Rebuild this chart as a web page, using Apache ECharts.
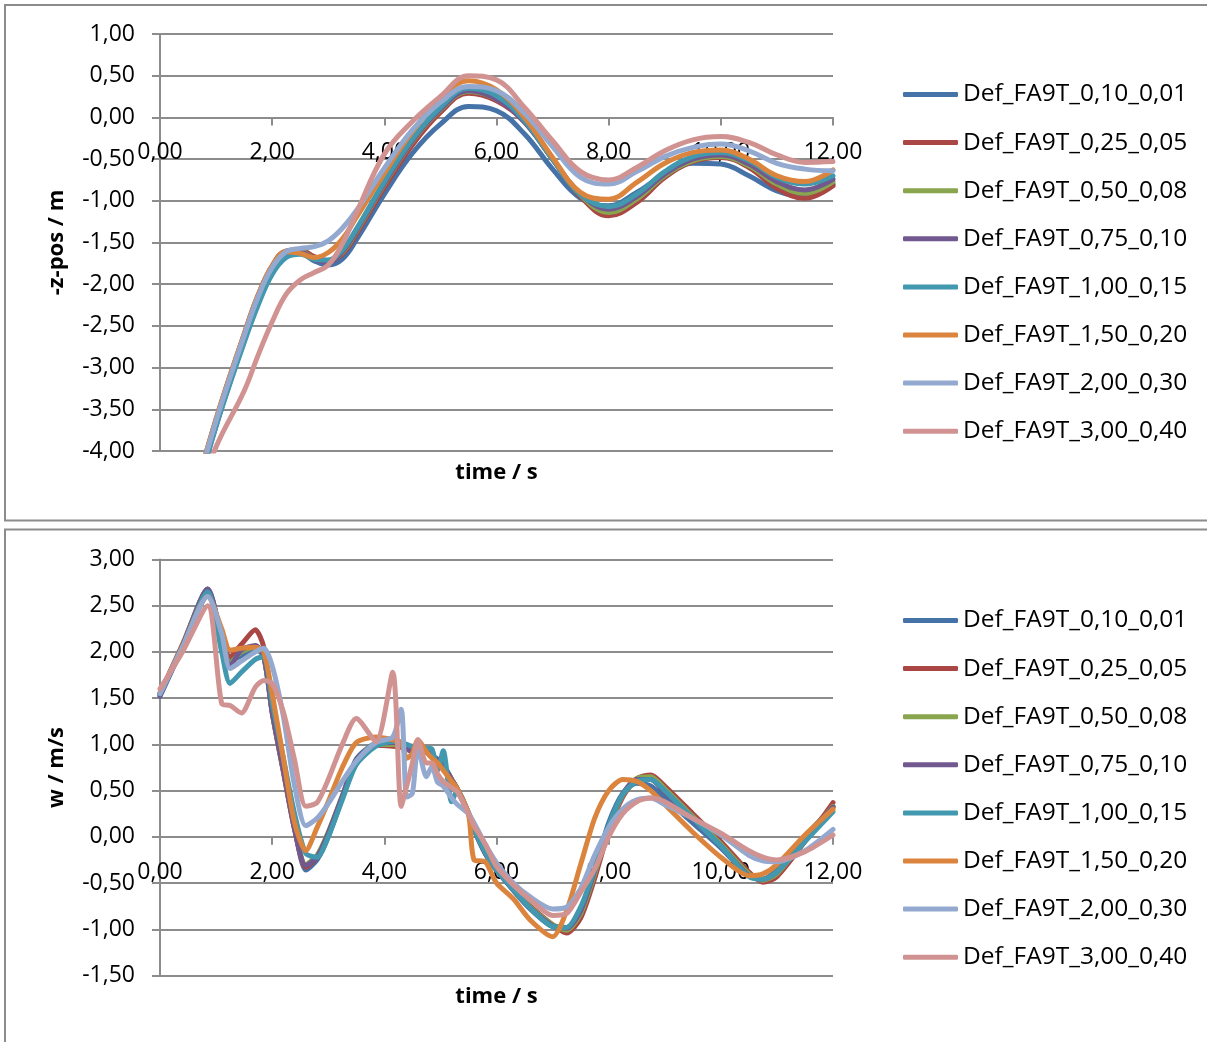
<!DOCTYPE html>
<html lang="de">
<head>
    <meta charset="UTF-8">
    <title>Def_FA9T</title>
    <script src="https://cdn.jsdelivr.net/npm/echarts@6/dist/echarts.min.js"></script>
    <style>
        *{
            padding: 0;
            margin: 0;
        }
        html, body{
            width: 100%;
            height: 100%;
            background: #fff;
            overflow: hidden;
        }
        .echarts{
            width: 1207px;
            height: 1042px;
        }
    </style>
</head>
<body>
<div class="echarts"></div>
<script>
    // series names (same in both charts)
    let names = ['Def_FA9T_0,10_0,01', 'Def_FA9T_0,25_0,05', 'Def_FA9T_0,50_0,08', 'Def_FA9T_0,75_0,10',
        'Def_FA9T_1,00_0,15', 'Def_FA9T_1,50_0,20', 'Def_FA9T_2,00_0,30', 'Def_FA9T_3,00_0,40'];
    let colors = ['#4572A7', '#AA4643', '#89A54E', '#71588F', '#4198AF', '#DB843D', '#93A9CF', '#D19392'];

    // top chart: -z-pos / m over time / s
    let timeZ = [0.5, 1.0, 1.5, 1.75, 2.0, 2.25, 2.5, 2.75, 3.0, 3.25, 3.5, 4.0, 4.5, 5.0, 5.5, 6.0, 6.5, 7.0, 7.5, 8.0, 8.5, 9.0, 9.5, 10.0, 10.5, 11.0, 11.5, 12.0];
    let z010 = [-4.9, -3.7, -2.68, -2.22, -1.87, -1.66, -1.63, -1.72, -1.77, -1.7, -1.47, -0.92, -0.43, -0.08, 0.13, 0.08, -0.2, -0.62, -0.97, -1.06, -0.9, -0.68, -0.55, -0.56, -0.7, -0.88, -0.95, -0.8];
    let z025 = [-4.8, -3.62, -2.6, -2.13, -1.78, -1.6, -1.59, -1.67, -1.72, -1.64, -1.4, -0.84, -0.33, 0.06, 0.29, 0.2, -0.05, -0.5, -0.95, -1.18, -1.02, -0.72, -0.53, -0.48, -0.6, -0.85, -0.97, -0.82];
    let z050 = [-4.82, -3.64, -2.62, -2.16, -1.8, -1.61, -1.61, -1.69, -1.73, -1.62, -1.37, -0.8, -0.29, 0.09, 0.31, 0.22, -0.05, -0.5, -0.93, -1.14, -0.98, -0.7, -0.52, -0.47, -0.58, -0.8, -0.91, -0.77];
    let z075 = [-4.83, -3.65, -2.63, -2.17, -1.81, -1.62, -1.62, -1.7, -1.74, -1.61, -1.36, -0.79, -0.28, 0.1, 0.32, 0.22, -0.06, -0.5, -0.92, -1.1, -0.95, -0.68, -0.5, -0.45, -0.56, -0.77, -0.87, -0.74];
    let z100 = [-4.88, -3.7, -2.7, -2.25, -1.88, -1.68, -1.64, -1.7, -1.71, -1.59, -1.34, -0.77, -0.26, 0.12, 0.35, 0.26, -0.04, -0.5, -0.93, -1.07, -0.92, -0.65, -0.47, -0.42, -0.52, -0.72, -0.8, -0.7];
    let z150 = [-4.8, -3.62, -2.6, -2.13, -1.78, -1.61, -1.63, -1.68, -1.62, -1.46, -1.2, -0.67, -0.17, 0.22, 0.44, 0.33, 0.0, -0.48, -0.9, -0.98, -0.78, -0.55, -0.42, -0.39, -0.5, -0.7, -0.77, -0.63];
    let z200 = [-4.82, -3.64, -2.62, -2.15, -1.8, -1.61, -1.57, -1.55, -1.48, -1.33, -1.12, -0.61, -0.15, 0.18, 0.37, 0.32, 0.05, -0.35, -0.72, -0.8, -0.65, -0.47, -0.36, -0.32, -0.4, -0.55, -0.62, -0.64];
    let z300 = [-4.85, -3.95, -3.28, -2.85, -2.45, -2.12, -1.95, -1.86, -1.77, -1.52, -1.15, -0.44, -0.05, 0.25, 0.5, 0.45, 0.12, -0.28, -0.65, -0.75, -0.6, -0.4, -0.27, -0.23, -0.3, -0.45, -0.54, -0.53];

    // bottom chart: w / m/s over time / s
    let timeW = [0, 0.4, 0.85, 1.1, 1.25, 1.45, 1.7, 1.85, 2.0, 2.2, 2.4, 2.6, 2.8, 3.0, 3.25, 3.5, 3.85, 4.15, 4.3, 4.4,
        4.5, 4.6, 4.75, 4.85, 4.95, 5.05, 5.2, 5.3, 5.5, 5.6, 5.8, 6.0, 6.3, 6.6, 7.0, 7.25, 7.5, 7.75, 8.0, 8.25,
        8.5, 8.75, 9.0, 9.5, 10.0, 10.5, 10.75, 11.0, 11.5, 12.0];
    let w010 = [1.52, 2.05, 2.68, 2.15, 1.9, 1.96, 2.03, 1.95, 1.35, 0.72, 0.1, -0.36, -0.25, 0.0, 0.42, 0.84, 1.01, 1.02, 1.0, 0.96,
        0.92, 0.99, 0.93, 0.88, 0.84, 0.78, 0.62, 0.52, 0.25, 0.08, -0.18, -0.36, -0.58, -0.78, -0.97, -0.98, -0.8, -0.35, 0.15, 0.47,
        0.58, 0.55, 0.42, 0.15, -0.12, -0.42, -0.46, -0.36, 0.0, 0.33];
    let w025 = [1.55, 2.08, 2.66, 2.15, 1.95, 2.08, 2.24, 2.05, 1.35, 0.7, 0.08, -0.33, -0.22, 0.03, 0.42, 0.8, 0.99, 0.98, 0.97, 0.97,
        0.95, 1.0, 0.92, 0.87, 0.83, 0.77, 0.62, 0.52, 0.26, 0.1, -0.15, -0.34, -0.56, -0.75, -0.95, -1.04, -0.88, -0.45, 0.06, 0.43,
        0.63, 0.67, 0.55, 0.25, -0.05, -0.38, -0.49, -0.43, -0.05, 0.37];
    let w050 = [1.54, 2.07, 2.67, 2.15, 1.88, 2.0, 2.05, 1.95, 1.35, 0.72, 0.1, -0.3, -0.2, 0.05, 0.44, 0.82, 1.0, 1.0, 0.99, 0.96,
        0.93, 1.0, 0.92, 0.87, 0.84, 0.78, 0.62, 0.52, 0.26, 0.09, -0.16, -0.35, -0.56, -0.76, -0.95, -1.01, -0.83, -0.4, 0.1, 0.45,
        0.63, 0.65, 0.52, 0.22, -0.08, -0.4, -0.47, -0.4, -0.03, 0.33];
    let w075 = [1.53, 2.06, 2.68, 2.15, 1.85, 2.02, 2.07, 1.95, 1.35, 0.72, 0.08, -0.31, -0.22, 0.04, 0.44, 0.83, 1.0, 1.02, 1.0, 0.95,
        0.92, 1.0, 0.92, 0.87, 0.84, 0.78, 0.62, 0.52, 0.25, 0.08, -0.18, -0.36, -0.57, -0.77, -0.96, -0.99, -0.8, -0.37, 0.12, 0.46,
        0.62, 0.62, 0.48, 0.2, -0.1, -0.42, -0.46, -0.38, -0.02, 0.32];
    let w100 = [1.55, 2.05, 2.65, 2.0, 1.66, 1.78, 1.92, 1.95, 1.45, 0.85, 0.25, -0.18, -0.22, 0.0, 0.4, 0.78, 0.98, 1.03, 1.02, 1.0,
        0.98, 0.98, 0.96, 0.95, 0.72, 0.93, 0.38, 0.5, 0.26, 0.08, -0.17, -0.36, -0.57, -0.77, -0.97, -0.98, -0.76, -0.35, 0.12, 0.46,
        0.6, 0.62, 0.5, 0.2, -0.1, -0.43, -0.46, -0.38, -0.05, 0.27];
    let w150 = [1.56, 2.05, 2.6, 2.25, 2.02, 2.04, 2.05, 2.0, 1.55, 0.85, 0.15, -0.15, 0.1, 0.38, 0.75, 1.02, 1.08, 1.05, 1.02, 0.85,
        0.9, 1.05, 0.92, 0.85, 0.8, 0.72, 0.6, 0.52, 0.25, -0.25, -0.27, -0.5, -0.67, -0.9, -1.08, -0.8, -0.3, 0.2, 0.5, 0.62,
        0.6, 0.5, 0.35, 0.05, -0.22, -0.42, -0.4, -0.3, 0.02, 0.3];
    let w200 = [1.55, 2.05, 2.6, 2.2, 1.82, 1.9, 2.0, 2.04, 1.85, 1.3, 0.55, 0.12, 0.2, 0.36, 0.6, 0.82, 1.02, 1.08, 1.38, 0.43,
        0.47, 0.97, 0.65, 0.76, 0.59, 0.55, 0.42, 0.35, 0.25, 0.15, -0.08, -0.28, -0.5, -0.65, -0.78, -0.76, -0.56, -0.2, 0.1, 0.3,
        0.4, 0.42, 0.35, 0.2, 0.02, -0.2, -0.26, -0.27, -0.15, 0.08];
    let w300 = [1.6, 2.0, 2.5, 1.44, 1.42, 1.34, 1.62, 1.69, 1.66, 1.35, 0.83, 0.33, 0.37, 0.62, 1.0, 1.28, 1.03, 1.78, 0.33, 0.55,
        0.8, 1.05, 0.8, 0.8, 0.68, 0.6, 0.53, 0.49, 0.25, 0.12, -0.08, -0.32, -0.52, -0.68, -0.85, -0.83, -0.6, -0.35, 0.0, 0.25,
        0.38, 0.42, 0.38, 0.2, 0.04, -0.15, -0.22, -0.25, -0.16, 0.02];

    let zRows = [z010, z025, z050, z075, z100, z150, z200, z300];
    let wRows = [w010, w025, w050, w075, w100, w150, w200, w300];

    window.onload = function () {
        let myCharts = echarts.init(document.querySelector('.echarts'));
        let font = '"Open Sans", sans-serif';
        let gray = '#8c8c8c';
        let comma = v => v.toFixed(2).replace('.', ',');

        let pair = (t, vals) => t.map((x, i) => [x, vals[i]]);

        // the x axis sits on y = 0 (moved up with a negative offset)
        let xAxis = (idx, offset, gap) => ({
            type: 'value', gridIndex: idx, min: 0, max: 12, interval: 2,
            position: 'bottom', offset: offset,
            name: 'time / s', nameLocation: 'middle', nameGap: gap,
            nameTextStyle: {fontFamily: font, fontSize: 22, fontWeight: 'bold', color: '#000'},
            axisLine: {onZero: false, lineStyle: {color: gray, width: 2}},
            axisTick: {show: true, length: 8, lineStyle: {color: gray, width: 2}},
            axisLabel: {fontFamily: font, fontSize: 23, color: '#000', margin: 24,
                showMinLabel: true, showMaxLabel: true, formatter: comma},
            splitLine: {show: false}
        });
        let yAxis = (idx, name, min, max) => ({
            type: 'value', gridIndex: idx, min: min, max: max, interval: 0.5,
            name: name, nameLocation: 'middle', nameGap: 92,
            nameTextStyle: {fontFamily: font, fontSize: 22, fontWeight: 'bold', color: '#000'},
            axisLine: {show: true, onZero: false, lineStyle: {color: gray, width: 2}},
            axisTick: {show: true, length: 8, lineStyle: {color: gray, width: 2}},
            axisLabel: {fontFamily: font, fontSize: 23, color: '#000', margin: 25, formatter: comma},
            splitLine: {show: true, lineStyle: {color: gray, width: 2}}
        });
        let legend = (top) => ({
            orient: 'vertical', left: 903, top: top, itemGap: 23.1, padding: 0,
            itemWidth: 55, itemHeight: 5, icon: 'roundRect',
            textStyle: {fontFamily: font, fontSize: 24.5, lineHeight: 24, color: '#000'},
            data: names
        });

        let series = [];
        names.forEach((name, i) => {
            series.push({
                name: name, type: 'line', xAxisIndex: 0, yAxisIndex: 0,
                data: pair(timeZ, zRows[i]), smooth: 0.4, showSymbol: false, clip: true,
                lineStyle: {color: colors[i], width: 5, cap: 'round', join: 'round'},
                itemStyle: {color: colors[i]}
            });
        });
        names.forEach((name, i) => {
            series.push({
                name: name, type: 'line', xAxisIndex: 1, yAxisIndex: 1,
                data: pair(timeW, wRows[i]), smooth: 0.25, showSymbol: false, clip: true,
                lineStyle: {color: colors[i], width: 5, cap: 'round', join: 'round'},
                itemStyle: {color: colors[i]}
            });
        });

        let option = {
            backgroundColor: '#fff',
            animation: false,
            graphic: [
                {type: 'rect', shape: {x: 5, y: 5, width: 1300, height: 515.5},
                    style: {fill: 'none', stroke: gray, lineWidth: 2}},
                {type: 'rect', shape: {x: 5, y: 529.5, width: 1300, height: 700},
                    style: {fill: 'none', stroke: gray, lineWidth: 2}}
            ],
            grid: [
                {left: 160, top: 34, width: 673, height: 417},
                {left: 160, top: 559.5, width: 673, height: 416}
            ],
            legend: [legend(82), legend(608)],
            xAxis: [xAxis(0, -333.6, 344.5), xAxis(1, -138.7, 149)],
            yAxis: [yAxis(0, '-z-pos / m', -4, 1), yAxis(1, 'w / m/s', -1.5, 3)],
            series
        };
        myCharts.setOption(option);
    }
</script>
</body>
</html>
